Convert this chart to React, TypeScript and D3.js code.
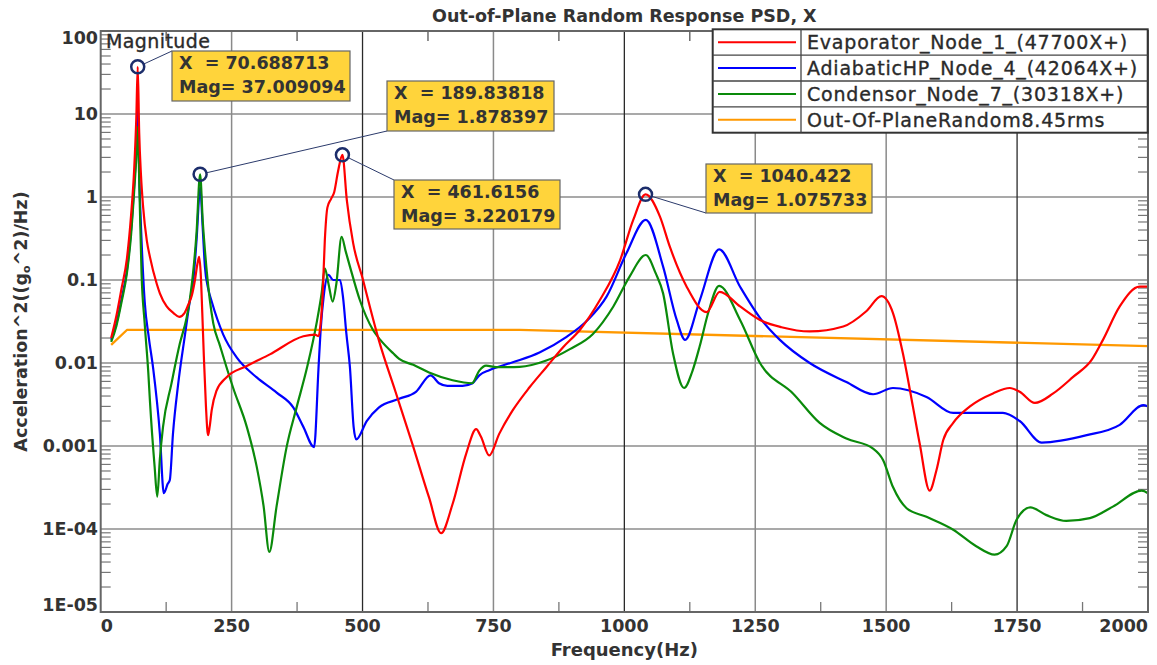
import React, { useEffect } from "react";
import * as d3 from "d3";

// ---------- data ----------
type Pt = [number, number];

const seriesNames = [
  "Evaporator_Node_1_(47700X+)",
  "AdiabaticHP_Node_4_(42064X+)",
  "Condensor_Node_7_(30318X+)",
  "Out-Of-PlaneRandom8.45rms",
];

const evaporatorNode1: Pt[] = [
  [20, 0.02], [30, 0.037], [40, 0.08], [50, 0.18], [58, 0.6], [64, 2.2], [68, 9], [70.7, 37.0],
  [73.5, 6], [77, 1.8], [81, 0.76], [88, 0.3], [94, 0.19], [107, 0.09], [113, 0.069], [126, 0.048],
  [139, 0.04], [150, 0.036], [160, 0.04], [167, 0.05], [174, 0.065], [180, 0.1], [185, 0.16],
  [188, 0.19], [191, 0.12], [194, 0.04], [197, 0.012], [201, 0.003], [205, 0.00135], [208, 0.0017],
  [212, 0.0027], [221, 0.0046], [240, 0.0067], [279, 0.0092], [323, 0.0127], [387, 0.021],
  [409, 0.022], [416, 0.021], [420, 0.03], [424, 0.07], [428, 0.3], [433, 0.75], [440, 0.95],
  [446, 1.15], [453, 2.0], [461.6, 3.22], [470, 0.92], [482, 0.28], [501, 0.1], [515, 0.045],
  [531, 0.019], [563, 0.0045], [595, 0.00107], [627, 2.4e-4], [650, 8.9e-5], [672, 2.0e-4],
  [698, 8.1e-4], [717, 0.0016], [726, 0.0013], [742, 7.7e-4], [761, 0.0014], [787, 0.0027],
  [819, 0.0051], [851, 0.0089], [883, 0.0155], [915, 0.025], [953, 0.057], [992, 0.174],
  [1017, 0.53], [1040.4, 1.076], [1068, 0.58], [1087, 0.25], [1119, 0.083], [1157, 0.041],
  [1182, 0.072], [1221, 0.048], [1259, 0.033], [1300, 0.027], [1354, 0.024], [1418, 0.0275],
  [1462, 0.042], [1491, 0.064], [1513, 0.04], [1532, 0.013], [1551, 0.003], [1564, 0.00107],
  [1583, 2.9e-4], [1596, 5.1e-4], [1609, 0.00118], [1628, 0.0019], [1660, 0.003], [1704, 0.0043],
  [1736, 0.005], [1755, 0.0045], [1784, 0.0033], [1819, 0.0043], [1857, 0.0068], [1892, 0.0108],
  [1914, 0.019], [1946, 0.048], [1984, 0.083], [2000, 0.083],
];

const adiabaticHPNode4: Pt[] = [
  [20, 0.019], [30, 0.03], [40, 0.06], [50, 0.13], [58, 0.4], [64, 1.4], [68, 4], [70.7, 12.2],
  [74, 1.5], [78, 0.3], [84, 0.055], [92, 0.02], [100, 0.0088], [113, 0.0014], [120.5, 2.7e-4],
  [128, 3.5e-4], [132, 3.9e-4], [138, 0.0014], [148, 0.0056], [161, 0.022], [170, 0.055],
  [177, 0.1], [183, 0.3], [190, 1.3], [195, 0.4], [199, 0.145], [205, 0.08], [212, 0.055],
  [234, 0.022], [260, 0.0116], [298, 0.0067], [336, 0.0044], [368, 0.0029], [387, 0.0017],
  [407.5, 9.7e-4], [416, 0.0088], [420, 0.025], [426, 0.065], [435, 0.115], [444, 0.1],
  [457, 0.1], [463, 0.06], [469, 0.023], [476, 0.0088], [483, 0.0017], [488, 0.0012],
  [508, 0.002], [531, 0.0029], [570, 0.0037], [602, 0.0045], [630, 0.0071], [646, 0.0057],
  [662, 0.0053], [691, 0.0053], [710, 0.0057], [723, 0.0071], [742, 0.0082], [787, 0.0102],
  [838, 0.0134], [889, 0.0205], [930, 0.033], [966, 0.063], [1004, 0.21], [1041, 0.53],
  [1074, 0.145], [1100, 0.033], [1116, 0.019], [1144, 0.057], [1181, 0.234], [1221, 0.083],
  [1259, 0.035], [1297, 0.019], [1354, 0.01], [1424, 0.0059], [1475, 0.0042], [1513, 0.005],
  [1577, 0.0039], [1628, 0.0025], [1723, 0.0025], [1755, 0.002], [1797, 0.0011], [1883, 0.00135],
  [1946, 0.0018], [1991, 0.0031], [2000, 0.003],
];

const condensorNode7: Pt[] = [
  [20, 0.018], [30, 0.028], [40, 0.055], [50, 0.12], [58, 0.35], [64, 1.2], [68, 3], [70.7, 7.0],
  [74, 1.2], [78, 0.12], [84, 0.03], [91, 0.0075], [94, 0.0035], [103, 5.6e-4], [108, 2.45e-4],
  [113, 7e-4], [119, 0.0017], [135, 0.0056], [151, 0.017], [164, 0.035], [170, 0.057],
  [183, 0.37], [189.8, 1.878], [195, 0.5], [199, 0.23], [208, 0.06], [215, 0.03], [228, 0.016],
  [240, 0.009], [253, 0.005], [279, 0.0017], [298, 5.6e-4], [311, 1.9e-4], [322, 5.3e-5],
  [336, 1.9e-4], [355, 9.7e-4], [374, 0.0029], [394, 0.0088], [413, 0.032], [422, 0.07],
  [428, 0.138], [435, 0.09], [443, 0.055], [450, 0.09], [460, 0.33], [468, 0.22], [476, 0.145],
  [495, 0.057], [520, 0.025], [534, 0.019], [559, 0.013], [570, 0.0112], [597, 0.0095],
  [627, 0.0077], [672, 0.0062], [709, 0.0057], [723, 0.0081], [736, 0.0093], [755, 0.0089],
  [800, 0.009], [851, 0.0107], [896, 0.0147], [940, 0.0224], [979, 0.048], [1010, 0.11],
  [1041, 0.2], [1060, 0.12], [1074, 0.069], [1093, 0.013], [1114, 0.005], [1130, 0.008],
  [1144, 0.016], [1160, 0.04], [1181, 0.085], [1221, 0.033], [1259, 0.01], [1322, 0.0043],
  [1373, 0.0019], [1424, 0.00123], [1475, 9.3e-4], [1494, 6.8e-4], [1513, 3.2e-4],
  [1539, 1.78e-4], [1577, 1.4e-4], [1628, 9.8e-5], [1672, 6.2e-5], [1707, 4.9e-5],
  [1730, 6.2e-5], [1749, 1.29e-4], [1775, 1.82e-4], [1806, 1.47e-4], [1844, 1.25e-4],
  [1889, 1.35e-4], [1933, 1.86e-4], [1988, 2.9e-4], [2000, 2.7e-4],
];

const outOfPlaneRandom: Pt[] = [
  [20, 0.0165], [50, 0.025], [800, 0.025], [2000, 0.016],
];

const xTicks = [0, 250, 500, 750, 1000, 1250, 1500, 1750, 2000];
const xTickLabels = ["0", "250", "500", "750", "1000", "1250", "1500", "1750", "2000"];
const yTicks = [1e-5, 1e-4, 1e-3, 1e-2, 1e-1, 1, 10, 100];
const yTickLabels = ["1E-05", "1E-04", "0.001", "0.01", "0.1", "1", "10", "100"];

const markerFreqLabels = ["70.688713", "189.83818", "461.6156", "1040.422"];
const markerMagLabels = ["37.009094", "1.878397", "3.220179", "1.075733"];

// ---------- layout / style ----------
const W = 1157;
const H = 665;
const L = 100.7, R = 1148, T = 31, B = 612;
const FONT = "'DejaVu Sans', 'Liberation Sans', Arial, sans-serif";
const colors = ["#ff0000", "#0000ff", "#0a8a0a", "#ff9900"];
const darkV = new Set([500, 1000, 1750]);

// box placement per marker (left, top, width, height, corner the leader goes to)
const boxLayout = [
  { left: 172, top: 51, w: 178, h: 50, corner: "tl" },
  { left: 387, top: 81, w: 167, h: 50, corner: "bl" },
  { left: 394, top: 180, w: 166, h: 49, corner: "tl" },
  { left: 706, top: 164, w: 166, h: 49, corner: "bl" },
];

export default function App() {
  useEffect(() => {
    document.body.style.margin = "0";
  }, []);

  const x = d3.scaleLinear().domain([0, 2000]).range([L, R]);
  const y = d3.scaleLog().domain([1e-5, 100]).range([B, T]);

  const line = d3
    .line<Pt>()
    .x((d) => x(d[0]))
    .y((d) => y(d[1]))
    .curve(d3.curveMonotoneX);
  const lineLin = d3
    .line<Pt>()
    .x((d) => x(d[0]))
    .y((d) => y(d[1]));

  const series = [evaporatorNode1, adiabaticHPNode4, condensorNode7];

  const minorY: number[] = [];
  for (let e = -5; e < 2; e++) {
    for (let k = 2; k <= 9; k++) minorY.push(k * Math.pow(10, e));
  }
  const minorX = d3.range(125, 2000, 250);

  const legX0 = 712.7, legX1 = 1147.7, legY0 = 29.3, legY1 = 132.7, legDiv = 801;
  const rowH = (legY1 - legY0) / 4;

  return (
    <svg width={W} height={H} style={{ display: "block", background: "#fff" }} fontFamily={FONT}>
      <defs>
        <clipPath id="plotclip">
          <rect x={L} y={T} width={R - L} height={B - T} />
        </clipPath>
      </defs>
      <rect x={0} y={0} width={W} height={H} fill="#fff" />

      {/* horizontal grid */}
      {yTicks.slice(1, -1).map((v) => (
        <line key={"hg" + v} x1={L} x2={R} y1={y(v)} y2={y(v)} stroke="#8c8c8c" strokeWidth={1.5} />
      ))}
      {/* vertical grid */}
      {xTicks.slice(1, -1).map((v) => (
        <line
          key={"vg" + v}
          x1={x(v)}
          x2={x(v)}
          y1={T}
          y2={B}
          stroke={darkV.has(v) ? "#2a2a2a" : "#8a8a8a"}
          strokeWidth={darkV.has(v) ? 1.3 : 1.5}
        />
      ))}

      {/* minor ticks */}
      {minorY.map((v, i) => (
        <g key={"my" + i}>
          <line x1={L} x2={L + 10} y1={y(v)} y2={y(v)} stroke="#777" strokeWidth={1.2} />
          <line x1={R - 10} x2={R} y1={y(v)} y2={y(v)} stroke="#777" strokeWidth={1.2} />
        </g>
      ))}
      {minorX.map((v) => (
        <g key={"mx" + v}>
          <line x1={x(v)} x2={x(v)} y1={B} y2={B - 10} stroke="#777" strokeWidth={1.3} />
          <line x1={x(v)} x2={x(v)} y1={T} y2={T + 10} stroke="#555" strokeWidth={1.3} />
        </g>
      ))}

      {/* curves */}
      <g clipPath="url(#plotclip)" fill="none" strokeLinejoin="round">
        <path d={lineLin(outOfPlaneRandom) || ""} stroke={colors[3]} strokeWidth={2.3} />
        {[1, 2, 0].map((i) => (
          <path key={"s" + i} d={line(series[i]) || ""} stroke={colors[i]} strokeWidth={2.2} />
        ))}
      </g>

      {/* frame */}
      <rect x={L} y={T} width={R - L} height={B - T} fill="none" stroke="#666" strokeWidth={2} />

      {/* tick labels */}
      {yTicks.map((v, i) => {
        let yy = y(v) + 6;
        if (i === yTicks.length - 1) yy = T + 13;
        if (i === 0) yy = B - 1;
        return (
          <text key={"yl" + v} x={98} y={yy} textAnchor="end" fontSize={17.5} fontWeight="bold" fill="#333">
            {yTickLabels[i]}
          </text>
        );
      })}
      {xTicks.map((v, i) => {
        const anchor = i === 0 ? "start" : i === xTicks.length - 1 ? "end" : "middle";
        return (
          <text key={"xl" + v} x={x(v)} y={632} textAnchor={anchor} fontSize={17.5} fontWeight="bold" fill="#333">
            {xTickLabels[i]}
          </text>
        );
      })}

      {/* titles */}
      <text x={(L + R) / 2} y={22} textAnchor="middle" fontSize={17.5} fontWeight="bold" fill="#333">
        Out-of-Plane Random Response PSD, X
      </text>
      <text x={(L + R) / 2} y={656} textAnchor="middle" fontSize={18} fontWeight="bold" fill="#333">
        Frequency(Hz)
      </text>
      <text
        transform={`translate(27, ${(T + B) / 2}) rotate(-90)`}
        textAnchor="middle"
        fontSize={17.5}
        fontWeight="bold"
        fill="#333"
      >
        Acceleration^2((g
        <tspan fontSize={11} dy={3}>o</tspan>
        <tspan dy={-3}>^2)/Hz)</tspan>
      </text>

      {/* Magnitude label */}
      <text x={106} y={48} fontSize={19} fill="#2a2a2a" stroke="#2a2a2a" strokeWidth={0.35} letterSpacing={0.4}>
        Magnitude
      </text>

      {/* markers */}
      {markerFreqLabels.map((fl, i) => {
        const fx = x(parseFloat(fl));
        const fy = y(parseFloat(markerMagLabels[i]));
        const b = boxLayout[i];
        const cx = b.left;
        const cy = b.corner === "tl" ? b.top : b.top + b.h;
        const ang = Math.atan2(cy - fy, cx - fx);
        return (
          <g key={"m" + i}>
            <line
              x1={fx + 6.5 * Math.cos(ang)}
              y1={fy + 6.5 * Math.sin(ang)}
              x2={cx}
              y2={cy}
              stroke="#2b3a6b"
              strokeWidth={1}
            />
            <circle cx={fx} cy={fy} r={6.5} fill="none" stroke="#1c2d6b" strokeWidth={2.5} />
            <rect x={b.left} y={b.top} width={b.w} height={b.h} fill="#ffd43b" stroke="#666" strokeWidth={1.2} />
            <text x={b.left + 7} y={b.top + 17.5} fontSize={17.5} fontWeight="bold" fill="#333">
              {"X\u00a0\u00a0= " + fl}
            </text>
            <text x={b.left + 7} y={b.top + 41.5} fontSize={17.5} fontWeight="bold" fill="#333">
              {"Mag= " + markerMagLabels[i]}
            </text>
          </g>
        );
      })}

      {/* legend */}
      <g>
        <rect x={legX0} y={legY0} width={legX1 - legX0} height={legY1 - legY0} fill="#fff" stroke="#333" strokeWidth={2} />
        <line x1={legDiv} x2={legDiv} y1={legY0} y2={legY1} stroke="#444" strokeWidth={1.3} />
        {[1, 2, 3].map((k) => (
          <line key={"lr" + k} x1={legX0} x2={legX1} y1={legY0 + k * rowH} y2={legY0 + k * rowH} stroke="#444" strokeWidth={1.3} />
        ))}
        {seriesNames.map((n, i) => {
          const cy = legY0 + (i + 0.5) * rowH;
          return (
            <g key={"lg" + i}>
              <line x1={718} x2={796} y1={cy} y2={cy} stroke={colors[i]} strokeWidth={2} />
              <text x={807} y={cy + 7} fontSize={19} fill="#2a2a2a" stroke="#2a2a2a" strokeWidth={0.35} letterSpacing={0.8}>
                {n}
              </text>
            </g>
          );
        })}
      </g>
    </svg>
  );
}
